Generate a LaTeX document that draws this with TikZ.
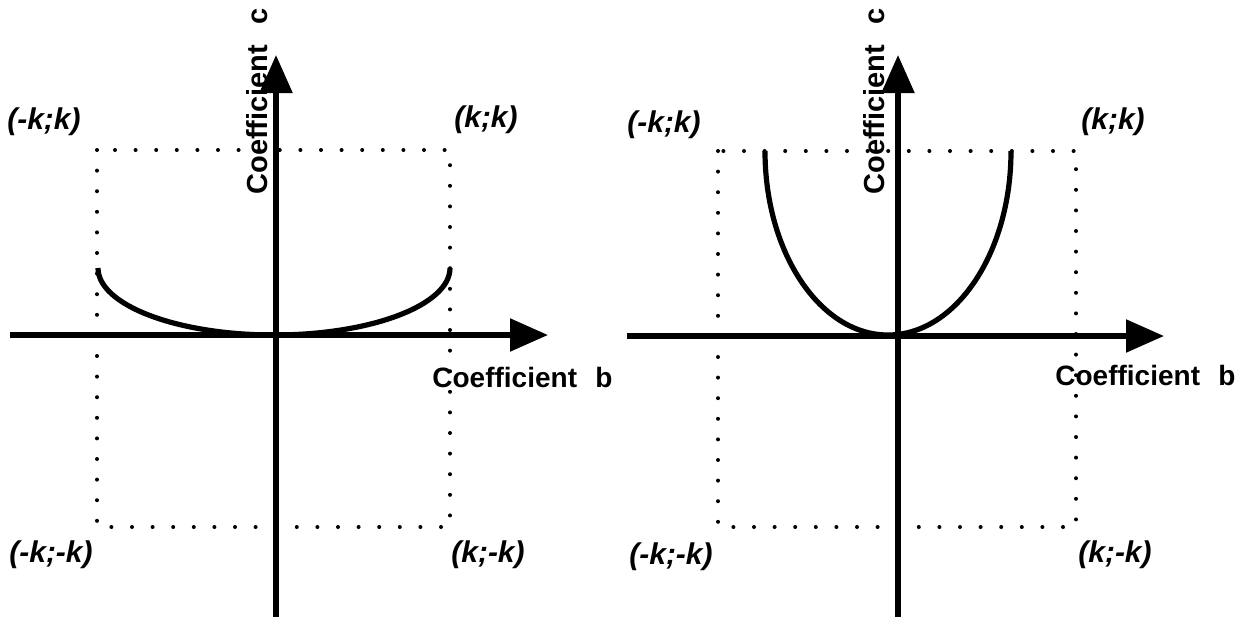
\documentclass[tikz,border=0pt]{standalone}
\usepackage{fontspec}
\setmainfont{Liberation Sans}
\usetikzlibrary{arrows.meta}

\begin{document}
\begin{tikzpicture}[x=0.5pt, y=-0.5pt,
  axis/.style={line width=2.7pt, -{Triangle[length=19pt,width=16pt]}},
  bound/.style={line width=2pt, line cap=round, dash pattern=on 0pt off 10.3pt},
  curve/.style={line width=2.6pt},
  lbl/.style={inner sep=0pt, font=\fontsize{14}{16}\selectfont\bfseries},
  vlbl/.style={inner sep=0pt, rotate=90, anchor=base west,
               font=\fontsize{14.5}{17}\selectfont\bfseries},
  corner/.style={inner sep=0pt, font=\fontsize{15}{17}\selectfont\bfseries\itshape}]
\useasboundingbox (0,0) rectangle (1258,617);
% left panel
\coordinate (lb0) at (10,335);
\coordinate (lb1) at (548,335);
\coordinate (lc0) at (276,617);
\coordinate (lc1) at (276,55);
\draw[bound] (97,150) rectangle (450,527);
\draw[axis] (lb0) -- (lb1);
\draw[axis] (lc0) -- (lc1);
\draw[curve] (98,268) arc[start angle=180, end angle=0, x radius=176, y radius=67];
\node[vlbl] (lcl) at (267,195) {Coefficient\hspace{0.7em}c};
\node[lbl, anchor=base west] (lbl) at (432,387) {Coefficient\hspace{0.65em}b};
\node[corner] (lnw) at (44,122) {(-k;k)};
\node[corner] (lne) at (486,120) {(k;k)};
\node[corner] (lsw) at (51,555) {(-k;-k)};
\node[corner] (lse) at (488,555) {(k;-k)};
% right panel
\coordinate (rb0) at (627,336);
\coordinate (rb1) at (1164,336);
\coordinate (rc0) at (898,617);
\coordinate (rc1) at (898,55);
\draw[bound] (718,151) rectangle (1076,527);
\draw[axis] (rb0) -- (rb1);
\draw[axis] (rc0) -- (rc1);
\draw[curve] (765,151) arc[start angle=180, end angle=0, x radius=123, y radius=184];
\node[vlbl] (rcl) at (884,195) {Coefficient\hspace{0.7em}c};
\node[lbl, anchor=base west] (rbl) at (1055,385) {Coefficient\hspace{0.65em}b};
\node[corner] (rnw) at (664,125) {(-k;k)};
\node[corner] (rne) at (1113,122) {(k;k)};
\node[corner] (rsw) at (671,557) {(-k;-k)};
\node[corner] (rse) at (1115,555) {(k;-k)};
\end{tikzpicture}
\end{document}
